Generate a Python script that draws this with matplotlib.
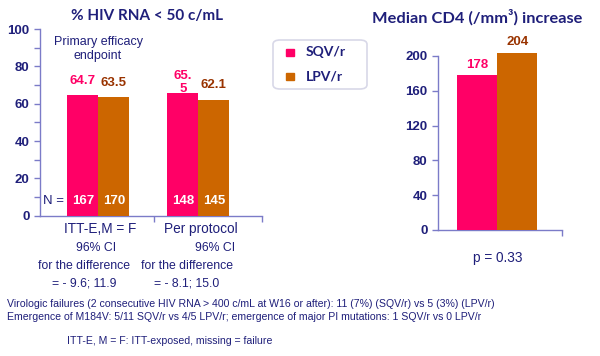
import matplotlib
matplotlib.use("Agg")
import matplotlib.pyplot as plt
from matplotlib.patches import FancyBboxPatch, Rectangle
import numpy as np

plt.rcParams['font.family'] = ['Liberation Sans', 'DejaVu Sans']

# data
groups = ["ITT-E,M = F", "Per protocol"]
sqv_pct = [64.7, 65.5]
lpv_pct = [63.5, 62.1]
sqv_n = [167, 148]
lpv_n = [170, 145]
sqv_label = ["64.7", "65.\n5"]
lpv_label = ["63.5", "62.1"]
ci_lines = [["96% CI", "for the difference", "= - 9.6; 11.9"],
            ["96% CI", "for the difference", "= - 8.1; 15.0"]]
cd4 = [178, 204]
series = ["SQV/r", "LPV/r"]
footnotes = [
    "Virologic failures (2 consecutive HIV RNA > 400 c/mL at W16 or after): 11 (7%) (SQV/r) vs 5 (3%) (LPV/r)",
    "Emergence of M184V: 5/11 SQV/r vs 4/5 LPV/r; emergence of major PI mutations: 1 SQV/r vs 0 LPV/r",
]
footnote_def = "ITT-E, M = F: ITT-exposed, missing = failure"

PINK = "#FF0066"
ORANGE = "#CC6600"
BROWN = "#993300"
NAVY = "#1F1F7A"
AXC = "#7B7BC8"

W, H = 600, 356
fig = plt.figure(figsize=(6, 3.56), dpi=100)


def px(x, y):
    return x / W, 1 - y / H


def style_axis(ax):
    for s in ["top", "right"]:
        ax.spines[s].set_visible(False)
    for s in ["left", "bottom"]:
        ax.spines[s].set_color(AXC)
        ax.spines[s].set_linewidth(1.0)
    ax.tick_params(axis="y", colors=AXC, length=4, width=1, labelcolor=NAVY, labelsize=9.5)
    ax.tick_params(axis="x", colors=AXC, length=4, width=1)
    for lab in ax.get_yticklabels():
        lab.set_fontweight("bold")


# left panel
ax1 = fig.add_axes([40 / W, 140.3 / H, 222 / W, 186.7 / H])
x = np.arange(len(groups))
bw = 0.31
ax1.bar(x - bw / 2, sqv_pct, bw, color=PINK, zorder=3)
ax1.bar(x + bw / 2, lpv_pct, bw, color=ORANGE, zorder=3)
ax1.set_xlim(-0.583, 1.637)
ax1.set_ylim(0, 100)
ax1.set_yticks(range(0, 101, 20))
ax1.set_yticks(range(0, 101, 10), minor=True)
ax1.tick_params(axis="y", which="minor", colors=AXC, length=4, width=1)
ax1.set_xticks([0.557, 1.637])
ax1.set_xticklabels([])
style_axis(ax1)

for i in range(len(groups)):
    ax1.annotate(sqv_label[i], (x[i] - bw / 2, sqv_pct[i]), xytext=(0, 6 if i == 0 else -1),
                 textcoords="offset points", ha="center", va="bottom",
                 color=PINK, fontsize=9.5, fontweight="bold", zorder=1, linespacing=1.1)
    ax1.annotate(lpv_label[i], (x[i] + bw / 2, lpv_pct[i]), xytext=(0, 6),
                 textcoords="offset points", ha="center", va="bottom",
                 color=BROWN, fontsize=9.5, fontweight="bold", zorder=4)
    ax1.text(x[i] - bw / 2, 7.9, str(sqv_n[i]), ha="center", va="center",
             color="white", fontsize=9.5, fontweight="bold", zorder=4)
    ax1.text(x[i] + bw / 2, 7.9, str(lpv_n[i]), ha="center", va="center",
             color="white", fontsize=9.5, fontweight="bold", zorder=4)
ax1.text(-0.55, 7.9, "N =", ha="left", va="center", color=NAVY, fontsize=9.5, zorder=4)

fig.text(*px(147, 16), "% HIV RNA < 50 c/mL", ha="center", va="center",
         color=NAVY, fontsize=11, fontweight="bold", family=["Lato", "DejaVu Sans"])
fig.text(*px(98, 49), "Primary efficacy\nendpoint", ha="center", va="center",
         color=NAVY, fontsize=9, linespacing=1.15)

cat_x = [100.5, 201]
ci_x = [[96.5, 84, 84.5], [215, 187, 187]]
ci_y = [248, 266, 283]
for i, g in enumerate(groups):
    fig.text(*px(cat_x[i], 229), g, ha="center", va="center", color=NAVY, fontsize=9.8)
    for j, line in enumerate(ci_lines[i]):
        fig.text(*px(ci_x[i][j], ci_y[j]), line, ha="center", va="center",
                 color=NAVY, fontsize=8.8)

# legend
leg = FancyBboxPatch(px(273, 89), 94 / W, 49 / H, boxstyle="round,pad=0,rounding_size=0.012",
                     transform=fig.transFigure, facecolor="white", edgecolor="#D8D8E8",
                     linewidth=1.2)
fig.patches.append(leg)
for k, (name, col) in enumerate(zip(series, [PINK, ORANGE])):
    yc = 52 + k * 24.5
    fig.patches.append(Rectangle(px(286, yc + 3.5), 7.5 / W, 7 / H,
                                 transform=fig.transFigure, color=col))
    fig.text(*px(306, yc), name, ha="left", va="center", color=NAVY,
             fontsize=10, fontweight="bold", family=["Lato", "DejaVu Sans"])

# right panel
ax2 = fig.add_axes([438 / W, 126 / H, 123.7 / W, 174 / H])
bw2 = 0.323
ax2.bar(-bw2 / 2, cd4[0], bw2, color=PINK, clip_on=False, zorder=3)
ax2.bar(bw2 / 2, cd4[1], bw2, color=ORANGE, clip_on=False, zorder=3)
ax2.set_xlim(-0.479, 0.521)
ax2.set_ylim(0, 200)
ax2.set_yticks(range(0, 201, 40))
ax2.set_xticks([0.521])
ax2.set_xticklabels([])
style_axis(ax2)
ax2.annotate(str(cd4[0]), (-bw2 / 2, cd4[0]), xytext=(0, 3), textcoords="offset points",
             ha="center", va="bottom", color=PINK, fontsize=9.5, fontweight="bold",
             annotation_clip=False)
ax2.annotate(str(cd4[1]), (bw2 / 2, cd4[1]), xytext=(0, 3), textcoords="offset points",
             ha="center", va="bottom", color=BROWN, fontsize=9.5, fontweight="bold",
             annotation_clip=False)

fig.text(*px(477, 17), "Median CD4 (/mm³) increase", ha="center", va="center",
         color=NAVY, fontsize=11.8, fontweight="bold", family=["Lato", "DejaVu Sans"])
fig.text(*px(498, 258), "p = 0.33", ha="center", va="center", color=NAVY, fontsize=9.8)

# footnotes
for k, line in enumerate(footnotes):
    fig.text(*px(7, 304 + k * 13.5), line, ha="left", va="center", color=NAVY,
             fontsize=7.6)
fig.text(*px(67, 341), footnote_def, ha="left", va="center", color=NAVY, fontsize=7.6)

fig.savefig("out.png", dpi=100)
